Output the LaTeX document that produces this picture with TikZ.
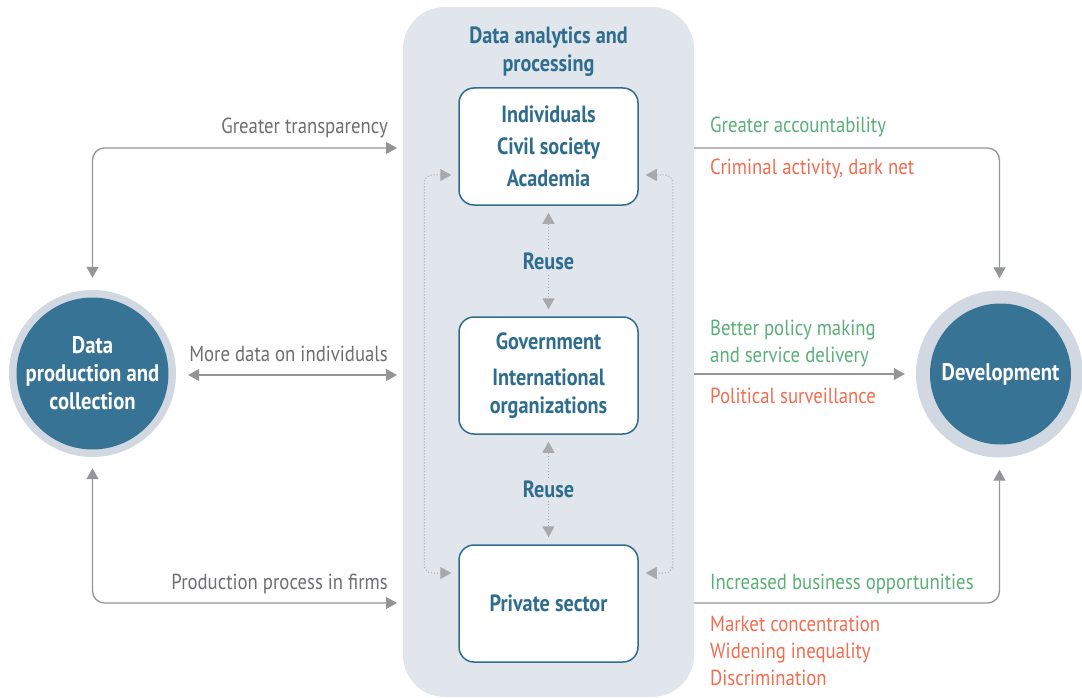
\documentclass[tikz,border=0pt]{standalone}
\usepackage{fontspec}
\setmainfont{PT Sans}[FakeStretch=0.86]
\usetikzlibrary{arrows.meta,calc}
\definecolor{panelc}{HTML}{E1E5EC}
\definecolor{ringc}{HTML}{D1D8E2}
\definecolor{corec}{HTML}{367394}
\definecolor{bluec}{HTML}{2F6D8F}
\definecolor{grayt}{HTML}{6D6E71}
\definecolor{grayl}{HTML}{939598}
\definecolor{dotc}{HTML}{A7A9AC}
\definecolor{greenc}{HTML}{5AAE78}
\definecolor{orangec}{HTML}{F26C4F}
\tikzset{
  tri/.tip={Triangle[length=11pt,width=12pt]},
  conn/.style={draw=grayl, line width=1.3pt, rounded corners=12pt, tri-tri},
  dots/.style={draw=dotc, line width=1pt, dotted, tri-tri},
  panelbox/.style={fill=panelc, rounded corners=42pt, minimum width=291pt, minimum height=690pt, inner sep=0pt},
  actor/.style={draw=bluec, line width=1.5pt, fill=white, rounded corners=15pt, minimum width=179pt, minimum height=117pt, inner sep=0pt, align=center, text=bluec, font=\fontsize{23.5}{32}\selectfont\bfseries},
  ring/.style={circle, fill=ringc, minimum size=167pt, inner sep=0pt},
  core/.style={circle, fill=corec, minimum size=141pt, inner sep=0pt, align=center, text=white, font=\fontsize{24}{28}\selectfont\bfseries},
  glabel/.style={text=grayt, font=\fontsize{21.8}{27}\selectfont, anchor=east, inner sep=0pt},
  clabel/.style={font=\fontsize{21.8}{27}\selectfont, anchor=west, inner sep=0pt, align=left},
  reuse/.style={fill=panelc, text=bluec, font=\fontsize{23.5}{26}\selectfont\bfseries, inner sep=3pt}
}
\begin{document}
\begin{tikzpicture}[x=1pt,y=-1pt]
\useasboundingbox (0,0) rectangle (1082,698);
% panel
\node[panelbox] (panel) at (548.5,352) {};
\node[text=bluec, font=\fontsize{23.5}{28}\selectfont\bfseries, align=center] (title) at (548.5,52) {Data analytics and\\processing};
% actor boxes
\node[actor] (b1) at (548.5,146.5) {Individuals\\Civil society\\Academia};
\node[actor] (b2) at (548.5,375.5) {Government\\[4pt]International\\[-4pt]organizations};
\node[actor] (b3) at (548.5,603.5) {Private sector};
% circles
\node[ring] (Lr) at (92.5,373.5) {};
\node[core] (L) at (92.5,373.5) {Data\\production and\\collection};
\node[ring] (Rr) at (999.5,374) {};
\node[core] (R) at (1000.5,374) {Development};
% free ends
\coordinate (t1) at (397,148);
\coordinate (t2) at (397,375);
\coordinate (t3) at (397,603);
% left connectors
\draw[conn] ([yshift=12pt]Lr.north) |- (t1);
\draw[conn] ([xshift=12pt]Lr.east |- t2) -- (t2);
\draw[conn] ([yshift=-11pt]Lr.south) |- (t3);
% right connectors
\draw[conn, tri-] ([yshift=12pt]Rr.north) |- (panel.east |- t1);
\draw[conn, -tri] (panel.east |- R) -- ([xshift=-11pt]Rr.west);
\draw[conn, tri-] ([yshift=-12pt]Rr.south) |- (panel.east |- t3);
% reuse
\draw[dots, shorten <=7pt, shorten >=7pt] (b1.south) -- (b2.north) node[reuse, midway] (r1) {Reuse};
\draw[dots, shorten <=7pt, shorten >=7pt] (b2.south) -- (b3.north) node[reuse, midway] (r2) {Reuse};
% side loops
\draw[dots, rounded corners=8pt] ([xshift=-7pt,yshift=-28.5pt]b1.west) -- ++(-27,0) |- ([xshift=-7pt,yshift=30.5pt]b3.west);
\draw[dots, rounded corners=8pt] ([xshift=7pt,yshift=-28.5pt]b1.east) -- ++(27,0) |- ([xshift=7pt,yshift=30.5pt]b3.east);
% left labels
\node[glabel] (l1) at (388,127.5) {Greater transparency};
\node[glabel] (l2) at (388,353.5) {More data on individuals};
\node[glabel] (l3) at (388,583.5) {Production process in firms};
% right labels
\node[clabel, text=greenc] (g1) at (710,126.5) {Greater accountability};
\node[clabel, text=orangec] (o1) at (710,168.5) {Criminal activity, dark net};
\node[clabel, text=greenc] (g2) at (710,344) {Better policy making\\and service delivery};
\node[clabel, text=orangec] (o2) at (710,395.5) {Political surveillance};
\node[clabel, text=greenc] (g3) at (710,583.5) {Increased business opportunities};
\node[clabel, text=orangec] (o3) at (710,650.5) {Market concentration\\Widening inequality\\Discrimination};
\end{tikzpicture}
\end{document}
